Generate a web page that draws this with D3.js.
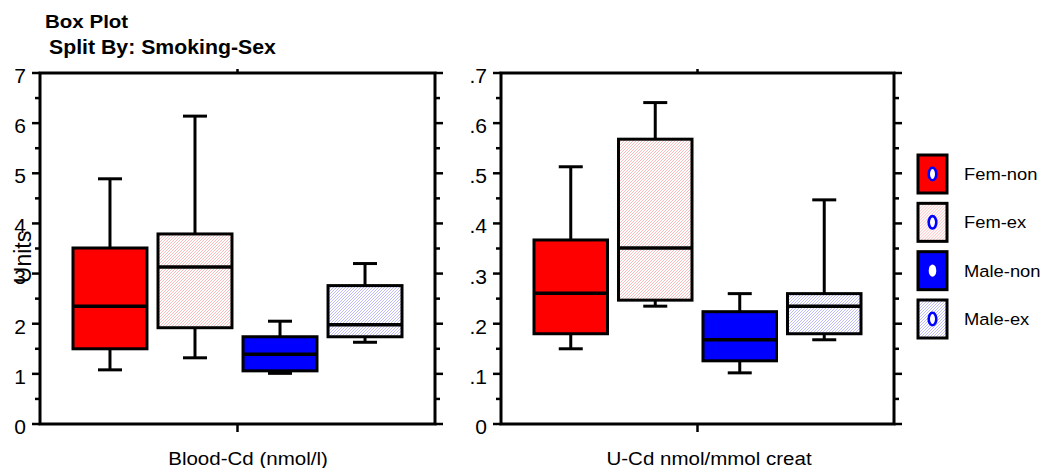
<!DOCTYPE html>
<html>
<head>
<meta charset="utf-8">
<script src="https://cdn.jsdelivr.net/npm/d3@7"></script>
<style>
  body { margin: 0; background: #fff; }
  svg { display: block; font-family: "Liberation Sans", Arial, sans-serif; }
</style>
</head>
<body>
<svg width="1041" height="468"></svg>
<script>
// groups in the split, same order in both panels
const groups = ["Fem-non", "Fem-ex", "Male-non", "Male-ex"];

// [whisker low, q1, median, q3, whisker high] for each group
const bloodCd = [
  [1.08, 1.50, 2.35, 3.51, 4.89],
  [1.32, 1.92, 3.13, 3.79, 6.14],
  [1.01, 1.06, 1.39, 1.74, 2.05],
  [1.63, 1.74, 1.98, 2.76, 3.20]
];
const urineCd = [
  [0.150, 0.180, 0.261, 0.367, 0.513],
  [0.235, 0.247, 0.351, 0.568, 0.641],
  [0.102, 0.126, 0.168, 0.224, 0.260],
  [0.168, 0.180, 0.235, 0.260, 0.447]
];

const bloodTicks = [0, 1, 2, 3, 4, 5, 6, 7];
const urineTicks = [0, 0.1, 0.2, 0.3, 0.4, 0.5, 0.6, 0.7];

const fills = ["#ff0000", "url(#hatchPink)", "#0000ff", "url(#hatchBlue)"];

const svg = d3.select("svg");
const SX = 1.08; // the picture is a little wider than its fonts

function txt(sel, x, y, s, size, opts = {}) {
  const t = sel.append("text")
    .attr("transform", `translate(${x},${y}) scale(${SX},1)` + (opts.rotate ? ` rotate(${opts.rotate})` : ""))
    .attr("font-size", size)
    .attr("text-anchor", opts.anchor || "start")
    .attr("font-weight", opts.bold ? "bold" : null)
    .attr("fill", "#000")
    .text(s);
  return t;
}

// hatch patterns
const defs = svg.append("defs");
function hatch(id, col) {
  const p = defs.append("pattern").attr("id", id)
    .attr("patternUnits", "userSpaceOnUse").attr("width", 3).attr("height", 3);
  p.append("rect").attr("width", 3).attr("height", 3).attr("fill", "#fff");
  p.append("path").attr("d", "M-1,1 l2,-2 M0,3 l3,-3 M2,4 l2,-2")
    .attr("stroke", col).attr("stroke-width", 0.9);
}
hatch("hatchPink", "#f7b4b4");
hatch("hatchBlue", "#b4b4f5");

const yTop = 73, yBot = 424;

function panel(x0, x1, stats, ticks, fmt, title, titleX, showUnits) {
  const g = svg.append("g");
  const y = d3.scaleLinear().domain([0, d3.max(ticks)]).range([yBot, yTop]);
  const x = d3.scaleBand().domain(groups).range([x0 + 33, x1 - 33]).paddingInner(0.13);
  const step = ticks[1] - ticks[0];
  const minor = ticks.slice(0, -1).map(t => t + step / 2);

  // tick marks on both sides
  [[x0, -1], [x1, 1]].forEach(([ax, dir]) => {
    g.selectAll(null).data(ticks).enter().append("line")
      .attr("x1", ax).attr("x2", ax + dir * 8)
      .attr("y1", d => y(d)).attr("y2", d => y(d))
      .attr("stroke", "#000").attr("stroke-width", 2.5);
    g.selectAll(null).data(minor).enter().append("line")
      .attr("x1", ax).attr("x2", ax + dir * 5)
      .attr("y1", d => y(d)).attr("y2", d => y(d))
      .attr("stroke", "#000").attr("stroke-width", 2.5);
  });
  const mid = (x0 + x1) / 2;
  g.append("line").attr("x1", mid).attr("x2", mid).attr("y1", yTop).attr("y2", yTop - 4)
    .attr("stroke", "#000").attr("stroke-width", 2.5);
  g.append("line").attr("x1", mid).attr("x2", mid).attr("y1", yBot).attr("y2", yBot + 8)
    .attr("stroke", "#000").attr("stroke-width", 2.5);

  ticks.forEach(t => txt(g, x0 - 14, y(t) + 10, fmt(t), 19.5, { anchor: "end" }));

  if (showUnits) txt(g, 31, 257, "Units", 23, { anchor: "middle", rotate: -90 });

  // frame
  g.append("rect").attr("x", x0).attr("y", yTop).attr("width", x1 - x0).attr("height", yBot - yTop)
    .attr("fill", "none").attr("stroke", "#000").attr("stroke-width", 3);

  const box = g.selectAll(".box").data(stats).enter().append("g").attr("class", "box");
  const cx = (d, i) => x(groups[i]) + x.bandwidth() / 2;
  // whiskers
  box.append("line").attr("x1", cx).attr("x2", cx)
    .attr("y1", d => y(d[0])).attr("y2", d => y(d[4]))
    .attr("stroke", "#000").attr("stroke-width", 3);
  [0, 4].forEach(k => {
    box.append("line")
      .attr("x1", (d, i) => cx(d, i) - 12).attr("x2", (d, i) => cx(d, i) + 12)
      .attr("y1", d => y(d[k])).attr("y2", d => y(d[k]))
      .attr("stroke", "#000").attr("stroke-width", 3);
  });
  box.append("rect")
    .attr("x", (d, i) => x(groups[i])).attr("width", x.bandwidth())
    .attr("y", d => y(d[3])).attr("height", d => y(d[1]) - y(d[3]))
    .attr("fill", (d, i) => fills[i]).attr("stroke", "#000").attr("stroke-width", 3);
  box.append("line")
    .attr("x1", (d, i) => x(groups[i])).attr("x2", (d, i) => x(groups[i]) + x.bandwidth())
    .attr("y1", d => y(d[2])).attr("y2", d => y(d[2]))
    .attr("stroke", "#000").attr("stroke-width", 3.5);

  txt(g, titleX, 465, title, 19, { anchor: "middle" });
}

panel(40, 435, bloodCd, bloodTicks, d3.format("d"), "Blood-Cd (nmol/l)", 248, true);
panel(501, 894, urineCd, urineTicks, d => d === 0 ? "0" : d3.format(".1f")(d).replace(/^0/, ""),
  "U-Cd nmol/mmol creat", 709, false);

// titles
txt(svg, 45, 28, "Box Plot", 19, { bold: true });
txt(svg, 49, 54, "Split By: Smoking-Sex", 19.7, { bold: true });

// legend
const legY = d3.scalePoint().domain(groups).range([174, 319]);
const leg = svg.selectAll(".leg").data(groups).enter().append("g").attr("class", "leg")
  .attr("transform", d => `translate(918,${legY(d)})`);
leg.append("rect").attr("x", 0).attr("y", -19).attr("width", 29).attr("height", 38)
  .attr("fill", (d, i) => fills[i]).attr("stroke", "#000").attr("stroke-width", 3);
leg.append("ellipse").attr("cx", 14.5).attr("cy", 0).attr("rx", 3.8).attr("ry", 6.2)
  .attr("fill", "#fff")
  .attr("stroke", (d, i) => i === 2 ? "none" : "#0000ff").attr("stroke-width", 2.6);
leg.each(function (d) { txt(d3.select(this), 46, 6, d, 17); });
</script>
</body>
</html>
